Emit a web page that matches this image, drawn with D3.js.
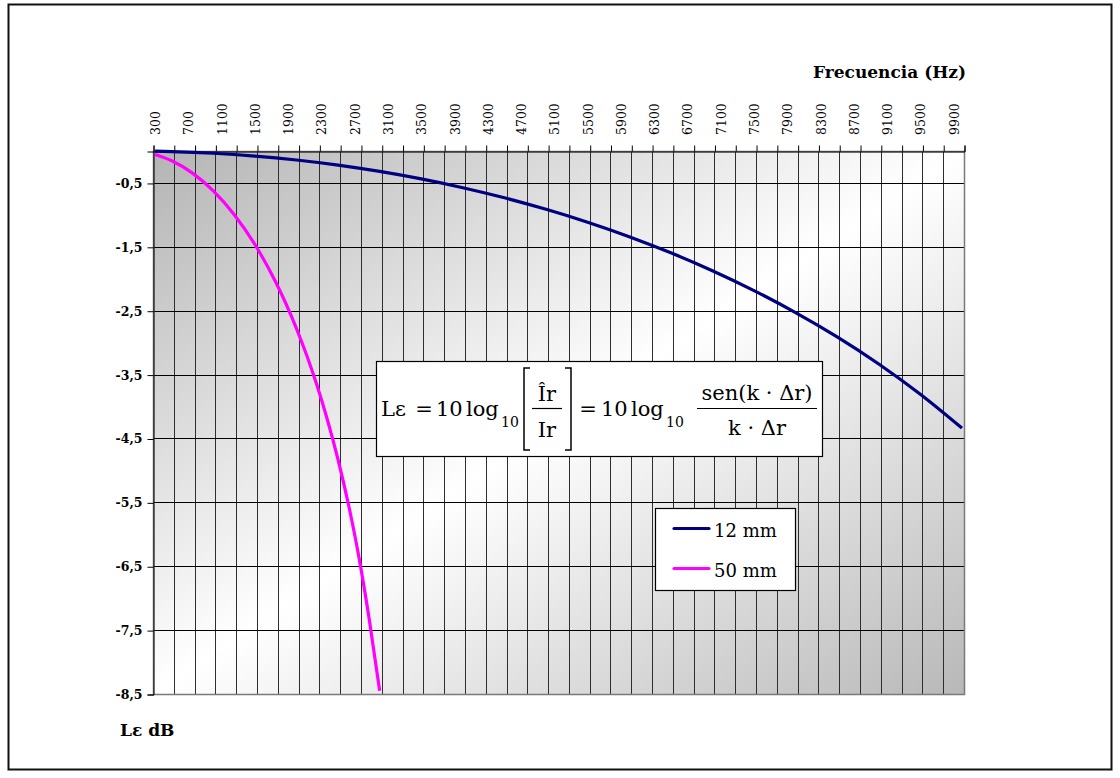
<!DOCTYPE html>
<html>
<head>
<meta charset="utf-8">
<script src="https://cdn.jsdelivr.net/npm/d3@7"></script>
<style>
  html, body { margin: 0; padding: 0; background: #fff; }
  svg { display: block; font-family: "DejaVu Serif", serif; }
</style>
</head>
<body>
<div id="chart"></div>
<script>
// values (Hz, dB)
const freq12 = [300, 500, 1000, 1500, 2000, 2500, 3000, 3500, 4000, 4500, 5000, 5500, 6000, 6500, 7000, 7500, 8000, 8500, 9000, 9500, 10000];
const level12 = [-0.003, -0.009, -0.035, -0.079, -0.141, -0.221, -0.320, -0.437, -0.575, -0.733, -0.913, -1.115, -1.341, -1.594, -1.874, -2.185, -2.529, -2.910, -3.334, -3.808, -4.338];

const freq50 = [300, 500, 750, 1000, 1250, 1500, 1750, 1875, 2000, 2125, 2250, 2375, 2500, 2625, 2750, 2875, 3000];
const level50 = [-0.055, -0.153, -0.347, -0.625, -0.994, -1.464, -2.051, -2.395, -2.779, -3.206, -3.684, -4.222, -4.833, -5.534, -6.353, -7.332, -8.45];

const seriesNames = ["12 mm", "50 mm"];
const seriesColors = ["#000080", "#FF00FF"];

const freqTickLabels = [300, 700, 1100, 1500, 1900, 2300, 2700, 3100, 3500, 3900, 4300, 4700, 5100, 5500, 5900, 6300, 6700, 7100, 7500, 7900, 8300, 8700, 9100, 9500, 9900];
const levelTicks = [-0.5, -1.5, -2.5, -3.5, -4.5, -5.5, -6.5, -7.5, -8.5];

const W = 1120, H = 778;
const plot = { left: 153, top: 151, right: 964, bottom: 694 };

const svg = d3.select("#chart").append("svg")
    .attr("width", W)
    .attr("height", H);

// outer chart frame
svg.append("rect")
    .attr("x", 8.5).attr("y", 4.5)
    .attr("width", 1103).attr("height", 765)
    .attr("fill", "#fff")
    .attr("stroke", "#111")
    .attr("stroke-width", 2);

// category axis: 50 Hz steps from 300 to 10000, bands centred on each value
const x = d3.scaleLinear().domain([275, 10025]).range([plot.left, plot.right]);
const y = d3.scaleLinear().domain([-8.5, 0]).range([plot.bottom, plot.top]);

const gridFreqs = d3.range(275, 10026, 250);

const defs = svg.append("defs");
const grad = defs.append("linearGradient")
    .attr("id", "plotBg")
    .attr("x1", 0).attr("y1", 0).attr("x2", 1).attr("y2", 1);
grad.append("stop").attr("offset", 0).attr("stop-color", "#b4b4b4");
grad.append("stop").attr("offset", 0.5).attr("stop-color", "#ffffff");
grad.append("stop").attr("offset", 1).attr("stop-color", "#b8b8b8");

svg.append("rect")
    .attr("x", plot.left).attr("y", plot.top)
    .attr("width", plot.right - plot.left)
    .attr("height", plot.bottom - plot.top)
    .attr("fill", "url(#plotBg)");

// vertical grid
svg.append("g")
    .selectAll("line")
    .data(gridFreqs)
    .join("line")
    .attr("x1", d => Math.round(x(d)) + 0.5)
    .attr("x2", d => Math.round(x(d)) + 0.5)
    .attr("y1", plot.top)
    .attr("y2", plot.bottom)
    .attr("stroke", "#2e2e2e")
    .attr("stroke-width", 1);

// horizontal grid
svg.append("g")
    .selectAll("line")
    .data(levelTicks)
    .join("line")
    .attr("x1", plot.left)
    .attr("x2", plot.right)
    .attr("y1", d => Math.round(y(d)) + 0.5)
    .attr("y2", d => Math.round(y(d)) + 0.5)
    .attr("stroke", "#000")
    .attr("stroke-width", 1);

// plot border
svg.append("rect")
    .attr("x", plot.left + 0.5).attr("y", plot.top + 0.5)
    .attr("width", plot.right - plot.left)
    .attr("height", plot.bottom - plot.top)
    .attr("fill", "none")
    .attr("stroke", "#7a7a7a")
    .attr("stroke-width", 1.5);

// top axis: tick marks at grid positions
const topTicks = svg.append("g")
    .attr("transform", `translate(0.5,${plot.top + 0.5})`)
    .call(d3.axisTop(x).tickValues(gridFreqs).tickSize(6).tickFormat(""));
topTicks.select(".domain").attr("stroke", "#000");
topTicks.selectAll(".tick line").attr("stroke", "#000");

// top axis labels, rotated
const topLabels = svg.append("g")
    .attr("transform", `translate(0,${plot.top})`)
    .call(d3.axisTop(x).tickValues(freqTickLabels).tickSize(0).tickFormat(d3.format("d")));
topLabels.select(".domain").remove();
topLabels.selectAll(".tick text")
    .attr("transform", "rotate(-90)")
    .attr("x", 16)
    .attr("y", 0)
    .attr("dy", "0.36em")
    .attr("text-anchor", "start")
    .attr("font-family", "DejaVu Serif")
    .attr("font-size", 12.5)
    .attr("fill", "#000");

// left axis
const leftAxis = svg.append("g")
    .attr("transform", `translate(${plot.left + 0.5},0.5)`)
    .call(d3.axisLeft(y).tickValues(levelTicks).tickSize(6).tickPadding(5)
        .tickFormat(d => "-" + d3.format(".1f")(Math.abs(d)).replace(".", ",")));
leftAxis.select(".domain").attr("stroke", "#000");
leftAxis.selectAll(".tick line").attr("stroke", "#000");
leftAxis.selectAll(".tick text")
    .attr("font-family", "DejaVu Serif")
    .attr("font-size", 12.5)
    .attr("font-weight", "bold")
    .attr("fill", "#000");

// series
const line = d3.line()
    .x(d => x(d[0]))
    .y(d => y(d[1]))
    .curve(d3.curveMonotoneX);

const series = [
    d3.zip(freq12, level12),
    d3.zip(freq50, level50)
];

svg.append("g")
    .selectAll("path")
    .data(series)
    .join("path")
    .attr("d", line)
    .attr("fill", "none")
    .attr("stroke", (d, i) => seriesColors[i])
    .attr("stroke-width", 3.2)
    .attr("stroke-linejoin", "round");

// axis titles
svg.append("text")
    .attr("x", 966).attr("y", 78)
    .attr("text-anchor", "end")
    .attr("font-size", 17)
    .attr("font-weight", "bold")
    .text("Frecuencia (Hz)");

svg.append("text")
    .attr("x", 120).attr("y", 736)
    .attr("font-size", 17)
    .attr("font-weight", "bold")
    .text("Lε dB");

// formula box
const f = svg.append("g").attr("font-size", 21).attr("fill", "#000");
f.append("rect")
    .attr("x", 376.5).attr("y", 361.5)
    .attr("width", 446).attr("height", 95)
    .attr("fill", "#fff")
    .attr("stroke", "#000")
    .attr("stroke-width", 1.2);

const mainBase = 416, subBase = 427;
f.append("text").attr("x", 381).attr("y", mainBase).text("Lε");
f.append("text").attr("x", 424).attr("y", mainBase).attr("text-anchor", "middle").text("=");
f.append("text").attr("x", 436).attr("y", mainBase).text("10");
f.append("text").attr("x", 466).attr("y", mainBase).text("log");
f.append("text").attr("x", 501).attr("y", subBase).attr("font-size", 14).text("10");

f.append("path").attr("d", "M530,368H524V450H530").attr("fill", "none").attr("stroke", "#000").attr("stroke-width", 1.5);
f.append("text").attr("x", 547).attr("y", 401).attr("text-anchor", "middle").text("Îr");
f.append("line").attr("x1", 532).attr("x2", 562).attr("y1", 408.5).attr("y2", 408.5).attr("stroke", "#000").attr("stroke-width", 1.2);
f.append("text").attr("x", 547).attr("y", 437).attr("text-anchor", "middle").text("Ir");
f.append("path").attr("d", "M565,368H571V450H565").attr("fill", "none").attr("stroke", "#000").attr("stroke-width", 1.5);

f.append("text").attr("x", 588).attr("y", mainBase).attr("text-anchor", "middle").text("=");
f.append("text").attr("x", 601).attr("y", mainBase).text("10");
f.append("text").attr("x", 631).attr("y", mainBase).text("log");
f.append("text").attr("x", 666).attr("y", subBase).attr("font-size", 14).text("10");

f.append("text").attr("x", 757).attr("y", 400).attr("text-anchor", "middle").text("sen(k · Δr)");
f.append("line").attr("x1", 697).attr("x2", 817).attr("y1", 408.5).attr("y2", 408.5).attr("stroke", "#000").attr("stroke-width", 1.2);
f.append("text").attr("x", 757).attr("y", 435).attr("text-anchor", "middle").text("k · Δr");

// legend
const legend = svg.append("g");
legend.append("rect")
    .attr("x", 655.5).attr("y", 508.5)
    .attr("width", 140).attr("height", 82)
    .attr("fill", "#fff")
    .attr("stroke", "#000")
    .attr("stroke-width", 1.2);

const item = legend.selectAll(".item")
    .data(seriesNames)
    .join("g")
    .attr("class", "item")
    .attr("transform", (d, i) => `translate(0,${528.5 + i * 40})`);

item.append("line")
    .attr("x1", 674).attr("x2", 709)
    .attr("stroke", (d, i) => seriesColors[i])
    .attr("stroke-width", 3.2)
    .attr("stroke-linecap", "round");

item.append("text")
    .attr("x", 714).attr("y", 8)
    .attr("font-size", 18)
    .text(d => d);
</script>
</body>
</html>
